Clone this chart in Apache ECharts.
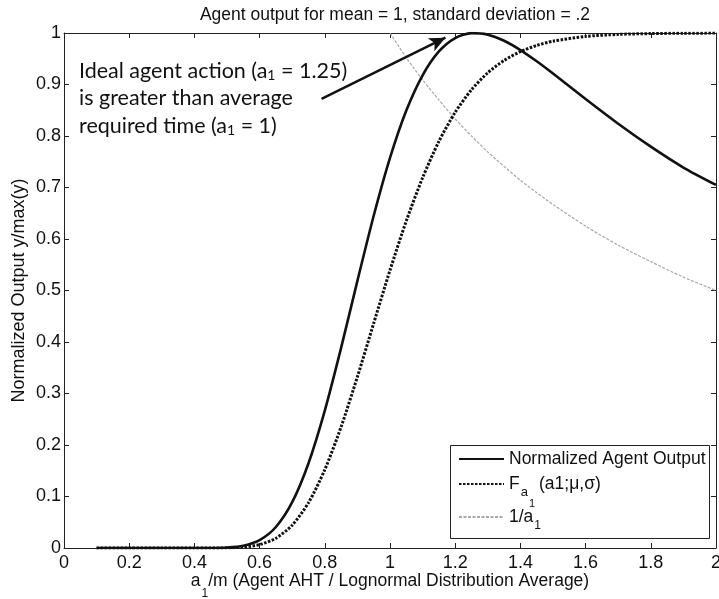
<!DOCTYPE html>
<html>
<head>
<meta charset="utf-8">
<script src="https://cdn.jsdelivr.net/npm/echarts@6/dist/echarts.min.js"></script>
</head>
<body style="margin:0;background:#fff">
<div id="main" style="width:719px;height:599px;"></div>
<script>
// values
var xs = [0.1, 0.2, 0.3, 0.4, 0.45, 0.5, 0.55, 0.6, 0.65, 0.7, 0.75, 0.8, 0.85, 0.9, 0.95,
          1.0, 1.05, 1.1, 1.15, 1.2, 1.25, 1.3, 1.35, 1.4, 1.45, 1.5, 1.6, 1.7, 1.8, 1.9, 2.0];
var agentOutput = [0, 0, 0, 0, 0.0001, 0.001, 0.0045, 0.0153, 0.0408, 0.0889, 0.1646, 0.2668, 0.3886, 0.5187, 0.6451,
                   0.7575, 0.8494, 0.9179, 0.9642, 0.9902, 0.9997, 0.9968, 0.9849, 0.9669, 0.9451, 0.9213, 0.8718, 0.8238, 0.7793, 0.7388, 0.7050];
var cdf = [0, 0, 0, 0, 0.00004, 0.0003, 0.0018, 0.0066, 0.0189, 0.0443, 0.0879, 0.152, 0.2352, 0.3324, 0.4364,
           0.5394, 0.6351, 0.719, 0.7896, 0.8461, 0.8899, 0.9228, 0.9468, 0.9639, 0.9759, 0.9841, 0.9933, 0.9973, 0.9989, 0.9996, 0.9998];
var invX = [1.0, 1.05, 1.1, 1.15, 1.2, 1.25, 1.3, 1.35, 1.4, 1.45, 1.5, 1.6, 1.7, 1.8, 1.9, 2.0];
var invY = [1.0, 0.952, 0.909, 0.870, 0.833, 0.8, 0.769, 0.741, 0.714, 0.690, 0.667, 0.625, 0.588, 0.556, 0.526, 0.5];

var xMin = 0, xMax = 2, xStep = 0.2;
var yMin = 0, yMax = 1, yStep = 0.1;

var seriesNames = ['Normalized Agent Output', 'F_a1(a1;mu,sigma)', '1/a1'];

function pairs(x, y) {
    return x.map(function (v, i) { return [v, y[i]]; });
}

var FONT = '"Liberation Sans", Arial, sans-serif';
var NOTE_FONT = 'Lato, "Open Sans", sans-serif';
var INK = '#111';

var myChart = echarts.init(document.getElementById('main'));

var boxAxis = {
    axisLine: { show: true, onZero: false, lineStyle: { color: '#222', width: 1 } },
    axisTick: { show: true, inside: true, length: 5, lineStyle: { color: '#222' } },
    splitLine: { show: false }
};

// subscripts are small tokens pushed to the bottom of a taller line
var legendRich = {
    t1: { fontFamily: FONT, fontSize: 17.5, color: INK, lineHeight: 20 },
    t2: { fontFamily: FONT, fontSize: 17.5, color: INK, lineHeight: 50 },
    s2: { fontFamily: FONT, fontSize: 13, color: INK, lineHeight: 15, verticalAlign: 'bottom', padding: [0, 1, 10, 1] },
    ss2: { fontFamily: FONT, fontSize: 11, color: INK, lineHeight: 13, verticalAlign: 'bottom', padding: [0, 4, 0, 0] },
    t3: { fontFamily: FONT, fontSize: 17.5, color: INK, lineHeight: 30 },
    s3: { fontFamily: FONT, fontSize: 12, color: INK, lineHeight: 14, verticalAlign: 'bottom', padding: [0, 0, 0, 1] }
};
var legendLabels = [
    '{t1|Normalized Agent Output}',
    '{t2|F}{s2|a}{ss2|1}{t2|(a1;\u03bc,\u03c3)}',
    '{t3|1/a}{s3|1}'
];
var legendTops = [450, 475, 508];

function legendRow(i) {
    return {
        orient: 'vertical',
        left: 458,
        top: legendTops[i],
        z: 10,
        padding: 0,
        selectedMode: false,
        itemWidth: 45,
        itemHeight: 12,
        itemStyle: { opacity: 0 },
        data: [seriesNames[i]],
        formatter: function () { return legendLabels[i]; },
        textStyle: { fontFamily: FONT, fontSize: 17.5, color: INK, rich: legendRich }
    };
}

option = {
    animation: false,
    backgroundColor: '#fff',
    title: {
        text: 'Agent output for mean = 1, standard deviation = .2',
        left: 390,
        textAlign: 'center',
        top: 1,
        textStyle: { fontFamily: FONT, fontSize: 17.5, fontWeight: 'normal', color: INK }
    },
    grid: { left: 64, right: 3, top: 33, bottom: 51, outerBoundsMode: 'none' },
    legend: [legendRow(0), legendRow(1), legendRow(2)],
    xAxis: [
        Object.assign({
            type: 'value', position: 'bottom', min: xMin, max: xMax, interval: xStep,
            axisLabel: { fontFamily: FONT, fontSize: 18, color: INK, margin: 6 },
            name: '{t|a}{s|1}{t|/m (Agent AHT / Lognormal Distribution Average)}',
            nameLocation: 'middle',
            nameGap: 14,
            nameMoveOverlap: false,
            nameTextStyle: {
                fontFamily: FONT, fontSize: 17.5, color: INK,
                rich: {
                    t: { fontFamily: FONT, fontSize: 17.5, color: INK, lineHeight: 38 },
                    s: { fontFamily: FONT, fontSize: 12, color: INK, lineHeight: 14, verticalAlign: 'bottom', padding: [0, 0, 0, 1] }
                }
            }
        }, boxAxis),
        Object.assign({
            type: 'value', position: 'top', min: xMin, max: xMax, interval: xStep,
            axisLabel: { show: false }
        }, boxAxis)
    ],
    yAxis: [
        Object.assign({
            type: 'value', position: 'left', min: yMin, max: yMax, interval: yStep,
            axisLabel: { fontFamily: FONT, fontSize: 18, color: INK, margin: 3 },
            name: 'Normalized Output y/max(y)',
            nameLocation: 'middle',
            nameGap: 36,
            nameMoveOverlap: false,
            nameTextStyle: { fontFamily: FONT, fontSize: 18, color: INK }
        }, boxAxis),
        Object.assign({
            type: 'value', position: 'right', min: yMin, max: yMax, interval: yStep,
            axisLabel: { show: false }
        }, boxAxis)
    ],
    series: [
        {
            name: seriesNames[0],
            type: 'line',
            data: pairs(xs, agentOutput),
            smooth: 0.25,
            symbol: 'none',
            clip: true,
            lineStyle: { color: INK, width: 2.6 },
            itemStyle: { color: INK },
            z: 3,
            markLine: {
                silent: true,
                symbol: ['none', 'arrow'],
                symbolSize: [11, 16],
                label: { show: false },
                lineStyle: { color: INK, width: 2.4, type: 'solid' },
                data: [[{ coord: [0.79, 0.872] }, { coord: [1.17, 0.991] }]]
            }
        },
        {
            name: seriesNames[1],
            type: 'line',
            data: pairs(xs, cdf),
            smooth: 0.25,
            symbol: 'none',
            clip: true,
            lineStyle: { color: INK, width: 3, type: [2.5, 1.5] },
            itemStyle: { color: INK },
            z: 2
        },
        {
            name: seriesNames[2],
            type: 'line',
            data: pairs(invX, invY),
            smooth: 0.25,
            symbol: 'none',
            clip: true,
            lineStyle: { color: '#a8a8a8', width: 1.2, type: [3, 1.5] },
            itemStyle: { color: '#a8a8a8' },
            z: 1
        }
    ],
    graphic: [
        {
            // legend frame
            type: 'rect', z: 5,
            shape: { x: 450.5, y: 445.5, width: 259, height: 93 },
            style: { fill: '#fff', stroke: '#222', lineWidth: 1 }
        },
        {
            type: 'text', left: 79, top: 60, z: 10,
            style: {
                text: '{t|Ideal agent action (a}{s|1}{t| = 1.25)}\n{t|is greater than average}\n{t|required time (a}{s|1}{t| = 1)}',
                fill: INK,
                rich: {
                    t: { fontFamily: NOTE_FONT, fontSize: 21.5, lineHeight: 27.5, fill: INK },
                    s: { fontFamily: NOTE_FONT, fontSize: 14, lineHeight: 27.5, fill: INK, padding: [8, 0, 0, 0] }
                }
            }
        }
    ]
};
myChart.setOption(option);
</script>
</body>
</html>
